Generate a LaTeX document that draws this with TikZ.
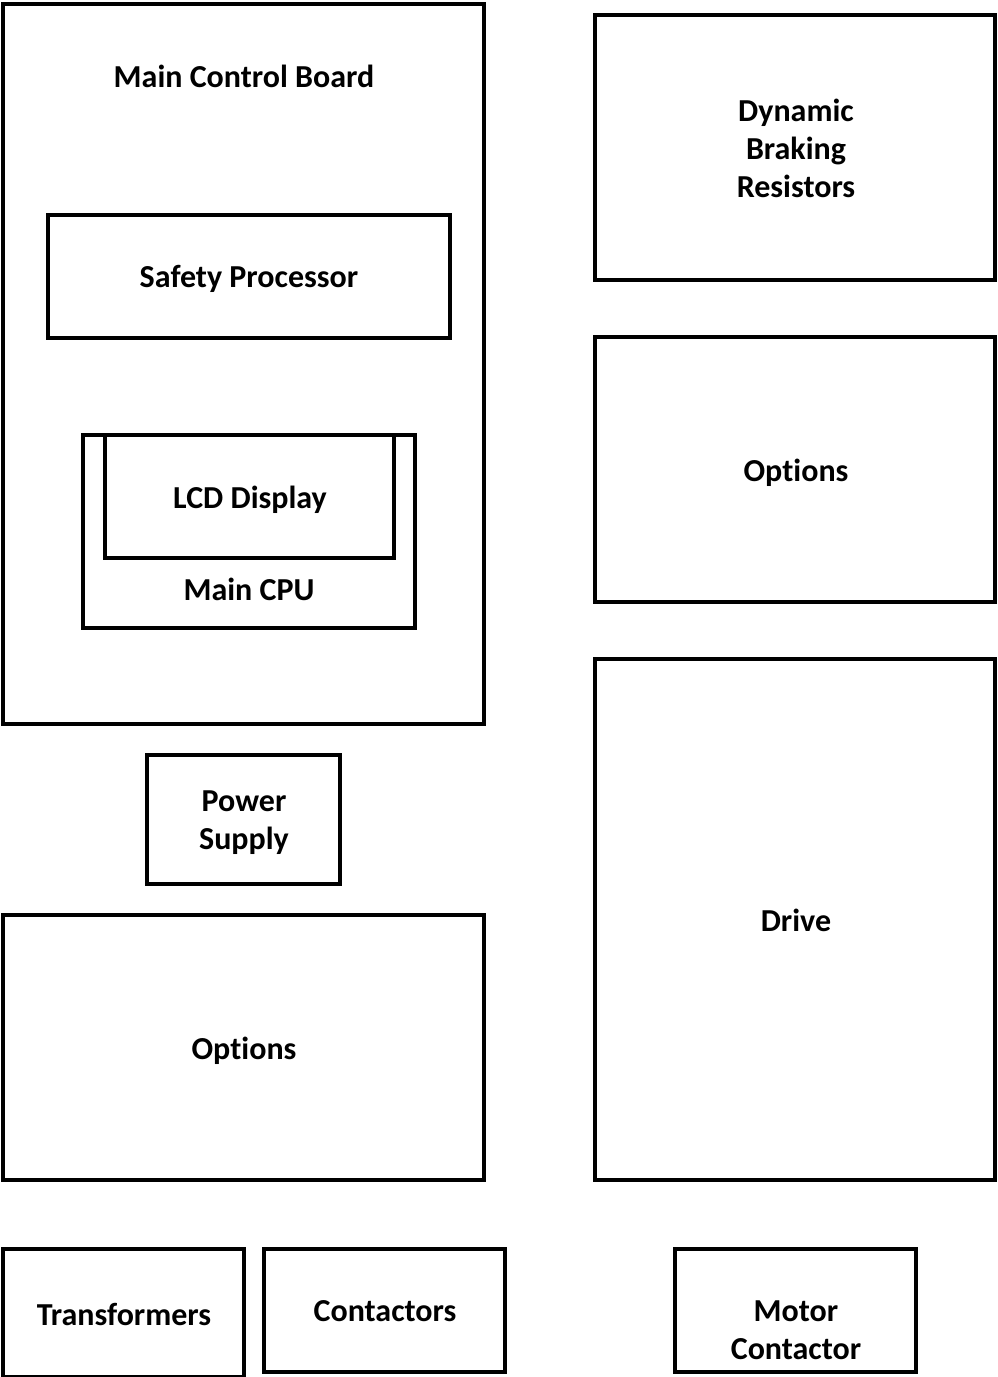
\documentclass[tikz,border=0pt]{standalone}
\usepackage{fontspec}
\setmainfont[Ligatures={NoCommon}]{Carlito}
\begin{document}
\begin{tikzpicture}[x=1pt,y=-1pt,
  txt/.style={font=\bfseries\fontsize{32}{38}\selectfont,text depth=0pt},
  box/.style={draw=black,line width=3.5pt,fill=none,inner sep=0pt,align=center,txt},
  lbl/.style={inner sep=0pt,align=center,txt}]
\useasboundingbox (0,0) rectangle (997,1377);
\fill[white] (0,0) rectangle (997,1377);
% left column
\node[box,minimum width=481pt,minimum height=720pt] (mcb) at (243.5,364) {};
\node[lbl] (mcbl) at (244,76) {Main Control Board};
\node[box,minimum width=402pt,minimum height=123pt] (sp) at (249,276.5) {};
\node[lbl] (spl) at (249,276) {Safety Processor};
\node[box,minimum width=332pt,minimum height=193pt] (cpu) at (249,531.5) {};
\node[box,minimum width=289pt,minimum height=123pt] (lcd) at (249.5,496.5) {};
\node[lbl] (lcdl) at (250,497) {LCD Display};
\node[lbl] (cpul) at (249,589) {Main CPU};
\node[box,minimum width=193pt,minimum height=129pt] (ps) at (243.5,819.5) {};
\node[lbl] (psl) at (244,820) {Power\\Supply};
\node[box,minimum width=481pt,minimum height=265pt] (optl) at (243.5,1047.5) {};
\node[lbl] (optll) at (244,1048) {Options};
\node[box,minimum width=241pt,minimum height=128pt] (tr) at (123.5,1313) {};
\node[lbl] (trl) at (124,1314) {Transformers};
\node[box,minimum width=241pt,minimum height=123pt] (ct) at (384.5,1310.5) {};
\node[lbl] (ctl) at (385,1311) {Contactors};
% right column
\node[box,minimum width=400pt,minimum height=265pt] (dbr) at (795,147.5) {};
\node[lbl] (dbrl) at (796,148) {Dynamic\\Braking\\Resistors};
\node[box,minimum width=400pt,minimum height=265pt] (optr) at (795,469.5) {};
\node[lbl] (optrl) at (796,470) {Options};
\node[box,minimum width=400pt,minimum height=521pt] (drv) at (795,919.5) {};
\node[lbl] (drvl) at (796,920) {Drive};
\node[box,minimum width=241pt,minimum height=123pt] (mc) at (795.5,1310.5) {};
\node[lbl] (mcl) at (796,1330) {Motor\\Contactor};
\end{tikzpicture}
\end{document}
